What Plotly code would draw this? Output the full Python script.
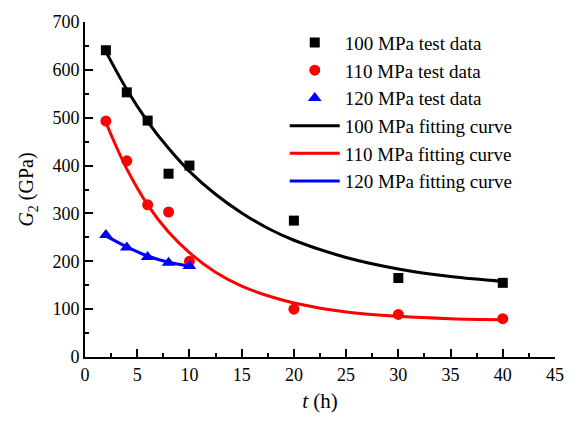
import plotly.graph_objects as go

# ---- data ----
t_data = [2, 4, 6, 8, 10, 20, 30, 40]
g100_data = [641, 553, 494, 383, 400, 285, 165, 155]
g110_data = [493, 410, 318, 303, 200, 100, 89, 80]
t120_data = [2, 4, 6, 8, 10]
g120_data = [255, 229, 209, 197, 190]

t_fit = [2, 4, 6, 8, 10, 12.5, 15, 17.5, 20, 25, 30, 35, 40]
g100_fit = [638, 559, 492, 436, 388, 340, 301, 269, 244, 208, 184, 168, 158]
g110_fit = [490, 393, 318, 261, 218, 177, 148, 128, 113, 94, 85, 80, 78]
t120_fit = [2, 4, 6, 8, 10]
g120_fit = [253, 230, 211, 198, 190]

x_ticks = [0, 5, 10, 15, 20, 25, 30, 35, 40, 45]
y_ticks = [0, 100, 200, 300, 400, 500, 600, 700]

FONT = "Liberation Serif"

fig = go.Figure()

# fitting curves (drawn first, listed after the data in the legend)
fig.add_trace(go.Scatter(x=t_fit, y=g100_fit, mode="lines", line=dict(color="black", width=3, shape="spline"),
                         name="100 MPa fitting curve", legendrank=4))
fig.add_trace(go.Scatter(x=t_fit, y=g110_fit, mode="lines", line=dict(color="#ff0000", width=3, shape="spline"),
                         name="110 MPa fitting curve", legendrank=5))
fig.add_trace(go.Scatter(x=t120_fit, y=g120_fit, mode="lines", line=dict(color="#0000ff", width=3, shape="spline"),
                         name="120 MPa fitting curve", legendrank=6))

# test data
fig.add_trace(go.Scatter(x=t_data, y=g100_data, mode="markers",
                         marker=dict(symbol="square", size=10, color="black"),
                         name="100 MPa test data", legendrank=1))
fig.add_trace(go.Scatter(x=t_data, y=g110_data, mode="markers",
                         marker=dict(symbol="circle", size=11, color="#ff0000"),
                         name="110 MPa test data", legendrank=2))
fig.add_trace(go.Scatter(x=t120_data, y=g120_data, mode="markers",
                         marker=dict(symbol="triangle-up", size=12, color="#0000ff"),
                         name="120 MPa test data", legendrank=3))

axis_common = dict(
    showline=True, linecolor="black", linewidth=2, mirror=False,
    ticks="inside", ticklen=8, tickwidth=1.5, tickcolor="black",
    showgrid=False, zeroline=False,
    tickfont=dict(family=FONT, size=18, color="black"),
)

fig.update_xaxes(range=[0, 45], tickvals=x_ticks, ticktext=[str(v) for v in x_ticks],
                 minor=dict(ticks="inside", ticklen=4, tickwidth=1.5, tickcolor="black", dtick=2.5, tick0=0),
                 title=dict(text="<i>t</i> (h)", font=dict(family=FONT, size=21, color="black"), standoff=10),
                 **axis_common)
fig.update_yaxes(range=[0, 700], tickvals=y_ticks, ticktext=[str(v) for v in y_ticks],
                 minor=dict(ticks="inside", ticklen=4, tickwidth=1.5, tickcolor="black", dtick=50, tick0=0),
                 title=dict(text="<i>G</i><sub>2</sub> (GPa)", font=dict(family=FONT, size=20, color="black"), standoff=13),
                 **axis_common)

fig.update_layout(
    width=576, height=421,
    margin=dict(l=85, r=17, t=16, b=63),
    paper_bgcolor="white", plot_bgcolor="white",
    font=dict(family=FONT, color="black"),
    legend=dict(x=0.425, y=0.995, xanchor="left", yanchor="top",
                bgcolor="rgba(0,0,0,0)", borderwidth=0,
                font=dict(family=FONT, size=19, color="black"),
                itemwidth=50, tracegroupgap=0, traceorder="normal"),
    showlegend=True,
)

fig.write_html("out.html")
